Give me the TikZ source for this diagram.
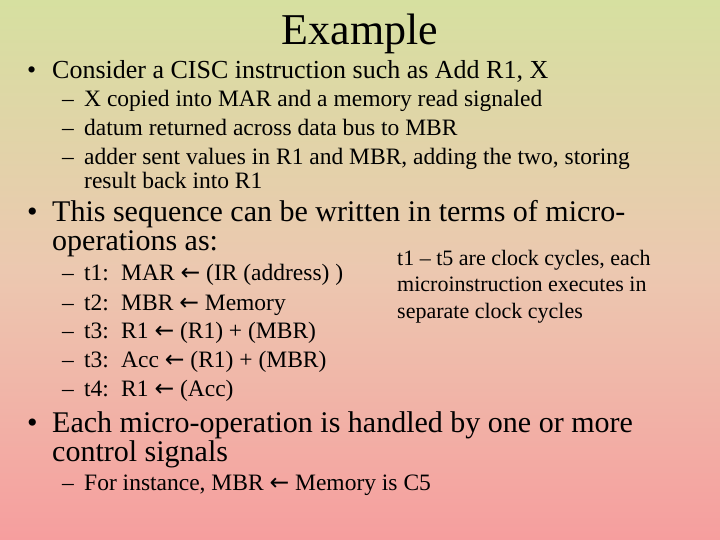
\documentclass[tikz,border=0pt]{standalone}
\usepackage{fontspec}
\setmainfont{Liberation Serif}
\newfontfamily\arrfont{DejaVu Sans}
\newcommand{\arr}{{\arrfont ←}}
\begin{document}
\begin{tikzpicture}[x=1pt,y=-1pt,
  t/.style={anchor=base west,inner sep=0pt,text=black},
  s1/.style={t,font=\fontsize{26}{28}\selectfont},
  s2/.style={t,font=\fontsize{23.5}{26}\selectfont},
  s3/.style={t,font=\fontsize{30}{32}\selectfont},
  sn/.style={t,font=\fontsize{22}{24}\selectfont}]
\shade[top color={rgb,255:red,214;green,224;blue,160}, bottom color={rgb,255:red,246;green,158;blue,158}, middle color={rgb,255:red,236;green,200;blue,176}] (0,0) rectangle (720,540);
\useasboundingbox (0,0) rectangle (720,540);
\node[anchor=base,inner sep=0pt,font=\fontsize{44}{48}\selectfont] (title) at (360,45) {Example};
\node[s1] (b1) at (27,79) {•};
\node[s1] (b1t) at (52,79) {Consider a CISC instruction such as Add R1, X};
\node[s2] (d1) at (62,107) {–};
\node[s2] (d1t) at (84,107) {X copied into MAR and a memory read signaled};
\node[s2] (d2) at (62,136) {–};
\node[s2] (d2t) at (84,136) {datum returned across data bus to MBR};
\node[s2] (d3) at (62,165) {–};
\node[s2] (d3t) at (84,165) {adder sent values in R1 and MBR, adding the two, storing};
\node[s2] (d3u) at (84,189) {result back into R1};
\node[s3] (b2) at (27,222) {•};
\node[s3] (b2t) at (52,222) {This sequence can be written in terms of micro-};
\node[s3] (b2u) at (52,251) {operations as:};
\foreach \y/\n/\lab/\op in {280/l1/t1:/{MAR \arr{} (IR (address) )},310/l2/t2:/{MBR \arr{} Memory},338/l3/t3:/{R1 \arr{} (R1) + (MBR)},367/l4/t3:/{Acc \arr{} (R1) + (MBR)},396/l5/t4:/{R1 \arr{} (Acc)}}{
  \node[s2] (\n d) at (62,\y) {–};
  \node[s2] (\n t) at (84,\y) {\lab};
  \node[s2] (\n o) at (121,\y) {\op};
}
\node[sn] (n1) at (397,265) {t1 – t5 are clock cycles, each};
\node[sn] (n2) at (397,291) {microinstruction executes in};
\node[sn] (n3) at (397,318) {separate clock cycles};
\node[s3] (b3) at (27,432) {•};
\node[s3] (b3t) at (52,432) {Each micro-operation is handled by one or more};
\node[s3] (b3u) at (52,461) {control signals};
\node[s2] (d4) at (62,490) {–};
\node[s2] (d4t) at (84,490) {For instance, MBR \arr{} Memory is C5};
\end{tikzpicture}
\end{document}
